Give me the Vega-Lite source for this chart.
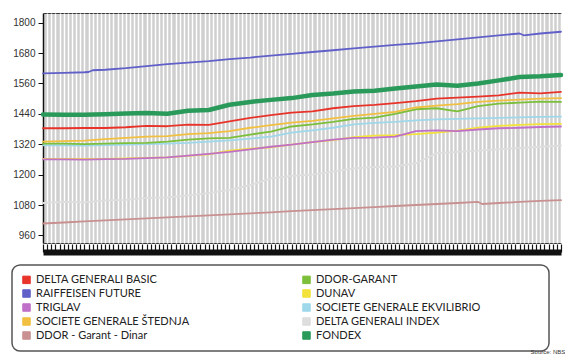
{
"$schema": "https://vega.github.io/schema/vega-lite/v6.json",
"width": 518, "height": 230,
"autosize": {"type": "none"},
"padding": {"left": 43, "top": 13, "right": 4, "bottom": 111},
"background": "white",
"title": {"text": "Source: NBS", "orient": "bottom", "anchor": "end", "fontSize": 6, "fontWeight": "normal", "color": "#333", "font": "Liberation Sans", "offset": 0, "baseline": "top", "dy": -3, "dx": 2},
"data": {"values": [
{"day":0,"fund":"DDOR - Garant - Dinar","value":1007},{"day":5,"fund":"DDOR - Garant - Dinar","value":1011},{"day":10,"fund":"DDOR - Garant - Dinar","value":1015},{"day":15,"fund":"DDOR - Garant - Dinar","value":1019},{"day":20,"fund":"DDOR - Garant - Dinar","value":1023},{"day":25,"fund":"DDOR - Garant - Dinar","value":1027},{"day":30,"fund":"DDOR - Garant - Dinar","value":1031},{"day":35,"fund":"DDOR - Garant - Dinar","value":1035},{"day":40,"fund":"DDOR - Garant - Dinar","value":1039},{"day":45,"fund":"DDOR - Garant - Dinar","value":1043},{"day":50,"fund":"DDOR - Garant - Dinar","value":1047},{"day":55,"fund":"DDOR - Garant - Dinar","value":1051},{"day":60,"fund":"DDOR - Garant - Dinar","value":1056},{"day":65,"fund":"DDOR - Garant - Dinar","value":1060},{"day":70,"fund":"DDOR - Garant - Dinar","value":1064},{"day":75,"fund":"DDOR - Garant - Dinar","value":1068},{"day":80,"fund":"DDOR - Garant - Dinar","value":1072},{"day":85,"fund":"DDOR - Garant - Dinar","value":1076},{"day":90,"fund":"DDOR - Garant - Dinar","value":1080},{"day":95,"fund":"DDOR - Garant - Dinar","value":1084},{"day":100,"fund":"DDOR - Garant - Dinar","value":1088},{"day":105,"fund":"DDOR - Garant - Dinar","value":1092},{"day":106,"fund":"DDOR - Garant - Dinar","value":1084},{"day":110,"fund":"DDOR - Garant - Dinar","value":1088},{"day":115,"fund":"DDOR - Garant - Dinar","value":1092},{"day":120,"fund":"DDOR - Garant - Dinar","value":1096},{"day":125,"fund":"DDOR - Garant - Dinar","value":1099},
{"day":0,"fund":"DELTA GENERALI INDEX","value":1088},{"day":5,"fund":"DELTA GENERALI INDEX","value":1092},{"day":10,"fund":"DELTA GENERALI INDEX","value":1090},{"day":15,"fund":"DELTA GENERALI INDEX","value":1098},{"day":20,"fund":"DELTA GENERALI INDEX","value":1100},{"day":25,"fund":"DELTA GENERALI INDEX","value":1108},{"day":30,"fund":"DELTA GENERALI INDEX","value":1110},{"day":35,"fund":"DELTA GENERALI INDEX","value":1118},{"day":40,"fund":"DELTA GENERALI INDEX","value":1127},{"day":45,"fund":"DELTA GENERALI INDEX","value":1140},{"day":50,"fund":"DELTA GENERALI INDEX","value":1158},{"day":55,"fund":"DELTA GENERALI INDEX","value":1185},{"day":60,"fund":"DELTA GENERALI INDEX","value":1195},{"day":65,"fund":"DELTA GENERALI INDEX","value":1200},{"day":70,"fund":"DELTA GENERALI INDEX","value":1212},{"day":75,"fund":"DELTA GENERALI INDEX","value":1225},{"day":80,"fund":"DELTA GENERALI INDEX","value":1230},{"day":85,"fund":"DELTA GENERALI INDEX","value":1232},{"day":90,"fund":"DELTA GENERALI INDEX","value":1245},{"day":95,"fund":"DELTA GENERALI INDEX","value":1285},{"day":100,"fund":"DELTA GENERALI INDEX","value":1290},{"day":105,"fund":"DELTA GENERALI INDEX","value":1295},{"day":110,"fund":"DELTA GENERALI INDEX","value":1300},{"day":115,"fund":"DELTA GENERALI INDEX","value":1305},{"day":120,"fund":"DELTA GENERALI INDEX","value":1310},{"day":125,"fund":"DELTA GENERALI INDEX","value":1315},
{"day":0,"fund":"SOCIETE GENERALE EKVILIBRIO","value":1316},{"day":5,"fund":"SOCIETE GENERALE EKVILIBRIO","value":1316},{"day":10,"fund":"SOCIETE GENERALE EKVILIBRIO","value":1315},{"day":15,"fund":"SOCIETE GENERALE EKVILIBRIO","value":1316},{"day":20,"fund":"SOCIETE GENERALE EKVILIBRIO","value":1318},{"day":25,"fund":"SOCIETE GENERALE EKVILIBRIO","value":1320},{"day":30,"fund":"SOCIETE GENERALE EKVILIBRIO","value":1322},{"day":35,"fund":"SOCIETE GENERALE EKVILIBRIO","value":1325},{"day":40,"fund":"SOCIETE GENERALE EKVILIBRIO","value":1330},{"day":45,"fund":"SOCIETE GENERALE EKVILIBRIO","value":1335},{"day":50,"fund":"SOCIETE GENERALE EKVILIBRIO","value":1342},{"day":55,"fund":"SOCIETE GENERALE EKVILIBRIO","value":1350},{"day":60,"fund":"SOCIETE GENERALE EKVILIBRIO","value":1366},{"day":65,"fund":"SOCIETE GENERALE EKVILIBRIO","value":1375},{"day":70,"fund":"SOCIETE GENERALE EKVILIBRIO","value":1385},{"day":75,"fund":"SOCIETE GENERALE EKVILIBRIO","value":1398},{"day":80,"fund":"SOCIETE GENERALE EKVILIBRIO","value":1404},{"day":85,"fund":"SOCIETE GENERALE EKVILIBRIO","value":1408},{"day":90,"fund":"SOCIETE GENERALE EKVILIBRIO","value":1414},{"day":95,"fund":"SOCIETE GENERALE EKVILIBRIO","value":1418},{"day":100,"fund":"SOCIETE GENERALE EKVILIBRIO","value":1420},{"day":105,"fund":"SOCIETE GENERALE EKVILIBRIO","value":1422},{"day":110,"fund":"SOCIETE GENERALE EKVILIBRIO","value":1424},{"day":115,"fund":"SOCIETE GENERALE EKVILIBRIO","value":1426},{"day":120,"fund":"SOCIETE GENERALE EKVILIBRIO","value":1428},{"day":125,"fund":"SOCIETE GENERALE EKVILIBRIO","value":1429},
{"day":0,"fund":"DUNAV","value":1262},{"day":5,"fund":"DUNAV","value":1262},{"day":10,"fund":"DUNAV","value":1262},{"day":15,"fund":"DUNAV","value":1262},{"day":20,"fund":"DUNAV","value":1264},{"day":25,"fund":"DUNAV","value":1266},{"day":30,"fund":"DUNAV","value":1268},{"day":35,"fund":"DUNAV","value":1274},{"day":40,"fund":"DUNAV","value":1280},{"day":45,"fund":"DUNAV","value":1295},{"day":50,"fund":"DUNAV","value":1302},{"day":55,"fund":"DUNAV","value":1308},{"day":60,"fund":"DUNAV","value":1318},{"day":65,"fund":"DUNAV","value":1328},{"day":70,"fund":"DUNAV","value":1336},{"day":75,"fund":"DUNAV","value":1348},{"day":80,"fund":"DUNAV","value":1354},{"day":85,"fund":"DUNAV","value":1356},{"day":90,"fund":"DUNAV","value":1360},{"day":95,"fund":"DUNAV","value":1366},{"day":100,"fund":"DUNAV","value":1374},{"day":105,"fund":"DUNAV","value":1385},{"day":110,"fund":"DUNAV","value":1392},{"day":115,"fund":"DUNAV","value":1396},{"day":120,"fund":"DUNAV","value":1399},{"day":125,"fund":"DUNAV","value":1400},
{"day":0,"fund":"TRIGLAV","value":1260},{"day":5,"fund":"TRIGLAV","value":1260},{"day":10,"fund":"TRIGLAV","value":1259},{"day":15,"fund":"TRIGLAV","value":1261},{"day":20,"fund":"TRIGLAV","value":1262},{"day":25,"fund":"TRIGLAV","value":1265},{"day":30,"fund":"TRIGLAV","value":1268},{"day":35,"fund":"TRIGLAV","value":1275},{"day":40,"fund":"TRIGLAV","value":1282},{"day":45,"fund":"TRIGLAV","value":1290},{"day":50,"fund":"TRIGLAV","value":1300},{"day":55,"fund":"TRIGLAV","value":1310},{"day":60,"fund":"TRIGLAV","value":1318},{"day":65,"fund":"TRIGLAV","value":1328},{"day":70,"fund":"TRIGLAV","value":1338},{"day":75,"fund":"TRIGLAV","value":1345},{"day":80,"fund":"TRIGLAV","value":1346},{"day":85,"fund":"TRIGLAV","value":1350},{"day":90,"fund":"TRIGLAV","value":1372},{"day":95,"fund":"TRIGLAV","value":1375},{"day":100,"fund":"TRIGLAV","value":1372},{"day":105,"fund":"TRIGLAV","value":1378},{"day":110,"fund":"TRIGLAV","value":1383},{"day":115,"fund":"TRIGLAV","value":1385},{"day":120,"fund":"TRIGLAV","value":1388},{"day":125,"fund":"TRIGLAV","value":1390},
{"day":0,"fund":"DDOR-GARANT","value":1322},{"day":5,"fund":"DDOR-GARANT","value":1322},{"day":10,"fund":"DDOR-GARANT","value":1320},{"day":15,"fund":"DDOR-GARANT","value":1322},{"day":20,"fund":"DDOR-GARANT","value":1324},{"day":25,"fund":"DDOR-GARANT","value":1325},{"day":30,"fund":"DDOR-GARANT","value":1330},{"day":35,"fund":"DDOR-GARANT","value":1338},{"day":40,"fund":"DDOR-GARANT","value":1343},{"day":45,"fund":"DDOR-GARANT","value":1345},{"day":50,"fund":"DDOR-GARANT","value":1358},{"day":55,"fund":"DDOR-GARANT","value":1370},{"day":60,"fund":"DDOR-GARANT","value":1390},{"day":65,"fund":"DDOR-GARANT","value":1398},{"day":70,"fund":"DDOR-GARANT","value":1408},{"day":75,"fund":"DDOR-GARANT","value":1420},{"day":80,"fund":"DDOR-GARANT","value":1425},{"day":85,"fund":"DDOR-GARANT","value":1440},{"day":90,"fund":"DDOR-GARANT","value":1458},{"day":95,"fund":"DDOR-GARANT","value":1462},{"day":100,"fund":"DDOR-GARANT","value":1450},{"day":105,"fund":"DDOR-GARANT","value":1470},{"day":110,"fund":"DDOR-GARANT","value":1480},{"day":115,"fund":"DDOR-GARANT","value":1484},{"day":120,"fund":"DDOR-GARANT","value":1488},{"day":125,"fund":"DDOR-GARANT","value":1487},
{"day":0,"fund":"SOCIETE GENERALE ŠTEDNJA","value":1330},{"day":5,"fund":"SOCIETE GENERALE ŠTEDNJA","value":1332},{"day":10,"fund":"SOCIETE GENERALE ŠTEDNJA","value":1334},{"day":15,"fund":"SOCIETE GENERALE ŠTEDNJA","value":1340},{"day":20,"fund":"SOCIETE GENERALE ŠTEDNJA","value":1345},{"day":25,"fund":"SOCIETE GENERALE ŠTEDNJA","value":1350},{"day":30,"fund":"SOCIETE GENERALE ŠTEDNJA","value":1352},{"day":35,"fund":"SOCIETE GENERALE ŠTEDNJA","value":1360},{"day":40,"fund":"SOCIETE GENERALE ŠTEDNJA","value":1364},{"day":45,"fund":"SOCIETE GENERALE ŠTEDNJA","value":1372},{"day":50,"fund":"SOCIETE GENERALE ŠTEDNJA","value":1385},{"day":55,"fund":"SOCIETE GENERALE ŠTEDNJA","value":1395},{"day":60,"fund":"SOCIETE GENERALE ŠTEDNJA","value":1405},{"day":65,"fund":"SOCIETE GENERALE ŠTEDNJA","value":1412},{"day":70,"fund":"SOCIETE GENERALE ŠTEDNJA","value":1422},{"day":75,"fund":"SOCIETE GENERALE ŠTEDNJA","value":1432},{"day":80,"fund":"SOCIETE GENERALE ŠTEDNJA","value":1440},{"day":85,"fund":"SOCIETE GENERALE ŠTEDNJA","value":1448},{"day":90,"fund":"SOCIETE GENERALE ŠTEDNJA","value":1465},{"day":95,"fund":"SOCIETE GENERALE ŠTEDNJA","value":1472},{"day":100,"fund":"SOCIETE GENERALE ŠTEDNJA","value":1478},{"day":105,"fund":"SOCIETE GENERALE ŠTEDNJA","value":1487},{"day":110,"fund":"SOCIETE GENERALE ŠTEDNJA","value":1492},{"day":115,"fund":"SOCIETE GENERALE ŠTEDNJA","value":1496},{"day":120,"fund":"SOCIETE GENERALE ŠTEDNJA","value":1500},{"day":125,"fund":"SOCIETE GENERALE ŠTEDNJA","value":1502},
{"day":0,"fund":"DELTA GENERALI BASIC","value":1383},{"day":5,"fund":"DELTA GENERALI BASIC","value":1383},{"day":10,"fund":"DELTA GENERALI BASIC","value":1384},{"day":15,"fund":"DELTA GENERALI BASIC","value":1384},{"day":20,"fund":"DELTA GENERALI BASIC","value":1387},{"day":25,"fund":"DELTA GENERALI BASIC","value":1392},{"day":30,"fund":"DELTA GENERALI BASIC","value":1391},{"day":35,"fund":"DELTA GENERALI BASIC","value":1397},{"day":40,"fund":"DELTA GENERALI BASIC","value":1396},{"day":45,"fund":"DELTA GENERALI BASIC","value":1410},{"day":50,"fund":"DELTA GENERALI BASIC","value":1424},{"day":55,"fund":"DELTA GENERALI BASIC","value":1435},{"day":60,"fund":"DELTA GENERALI BASIC","value":1445},{"day":65,"fund":"DELTA GENERALI BASIC","value":1450},{"day":70,"fund":"DELTA GENERALI BASIC","value":1462},{"day":75,"fund":"DELTA GENERALI BASIC","value":1470},{"day":80,"fund":"DELTA GENERALI BASIC","value":1475},{"day":85,"fund":"DELTA GENERALI BASIC","value":1482},{"day":90,"fund":"DELTA GENERALI BASIC","value":1490},{"day":95,"fund":"DELTA GENERALI BASIC","value":1500},{"day":100,"fund":"DELTA GENERALI BASIC","value":1504},{"day":105,"fund":"DELTA GENERALI BASIC","value":1508},{"day":110,"fund":"DELTA GENERALI BASIC","value":1513},{"day":115,"fund":"DELTA GENERALI BASIC","value":1524},{"day":120,"fund":"DELTA GENERALI BASIC","value":1521},{"day":125,"fund":"DELTA GENERALI BASIC","value":1527},
{"day":0,"fund":"FONDEX","value":1437},{"day":5,"fund":"FONDEX","value":1436},{"day":10,"fund":"FONDEX","value":1436},{"day":15,"fund":"FONDEX","value":1438},{"day":20,"fund":"FONDEX","value":1441},{"day":25,"fund":"FONDEX","value":1443},{"day":30,"fund":"FONDEX","value":1440},{"day":35,"fund":"FONDEX","value":1452},{"day":40,"fund":"FONDEX","value":1455},{"day":45,"fund":"FONDEX","value":1476},{"day":50,"fund":"FONDEX","value":1487},{"day":55,"fund":"FONDEX","value":1495},{"day":60,"fund":"FONDEX","value":1502},{"day":65,"fund":"FONDEX","value":1514},{"day":70,"fund":"FONDEX","value":1520},{"day":75,"fund":"FONDEX","value":1528},{"day":80,"fund":"FONDEX","value":1531},{"day":85,"fund":"FONDEX","value":1540},{"day":90,"fund":"FONDEX","value":1548},{"day":95,"fund":"FONDEX","value":1556},{"day":100,"fund":"FONDEX","value":1551},{"day":105,"fund":"FONDEX","value":1560},{"day":110,"fund":"FONDEX","value":1572},{"day":115,"fund":"FONDEX","value":1585},{"day":120,"fund":"FONDEX","value":1588},{"day":125,"fund":"FONDEX","value":1593},
{"day":0,"fund":"RAIFFEISEN FUTURE","value":1600},{"day":5,"fund":"RAIFFEISEN FUTURE","value":1602},{"day":10,"fund":"RAIFFEISEN FUTURE","value":1604},{"day":11,"fund":"RAIFFEISEN FUTURE","value":1605},{"day":12,"fund":"RAIFFEISEN FUTURE","value":1612},{"day":15,"fund":"RAIFFEISEN FUTURE","value":1614},{"day":20,"fund":"RAIFFEISEN FUTURE","value":1620},{"day":25,"fund":"RAIFFEISEN FUTURE","value":1628},{"day":30,"fund":"RAIFFEISEN FUTURE","value":1636},{"day":35,"fund":"RAIFFEISEN FUTURE","value":1642},{"day":40,"fund":"RAIFFEISEN FUTURE","value":1648},{"day":45,"fund":"RAIFFEISEN FUTURE","value":1656},{"day":50,"fund":"RAIFFEISEN FUTURE","value":1662},{"day":55,"fund":"RAIFFEISEN FUTURE","value":1670},{"day":60,"fund":"RAIFFEISEN FUTURE","value":1677},{"day":65,"fund":"RAIFFEISEN FUTURE","value":1684},{"day":70,"fund":"RAIFFEISEN FUTURE","value":1691},{"day":75,"fund":"RAIFFEISEN FUTURE","value":1698},{"day":80,"fund":"RAIFFEISEN FUTURE","value":1705},{"day":85,"fund":"RAIFFEISEN FUTURE","value":1712},{"day":90,"fund":"RAIFFEISEN FUTURE","value":1718},{"day":95,"fund":"RAIFFEISEN FUTURE","value":1726},{"day":100,"fund":"RAIFFEISEN FUTURE","value":1734},{"day":105,"fund":"RAIFFEISEN FUTURE","value":1742},{"day":110,"fund":"RAIFFEISEN FUTURE","value":1750},{"day":115,"fund":"RAIFFEISEN FUTURE","value":1757},{"day":116,"fund":"RAIFFEISEN FUTURE","value":1750},{"day":120,"fund":"RAIFFEISEN FUTURE","value":1757},{"day":125,"fund":"RAIFFEISEN FUTURE","value":1764}
]},
"mark": {"type": "line", "strokeJoin": "round", "strokeCap": "round"},
"encoding": {
  "x": {"field": "day", "type": "quantitative",
        "scale": {"domain": [0, 125], "nice": false, "zero": false},
        "axis": {"title": null, "labels": false, "tickCount": 125, "tickSize": -8, "tickColor": "#111", "tickWidth": 1.2,
                 "domainColor": "#111", "domainWidth": 6, "offset": 9,
                 "grid": true, "gridColor": "#ffffff", "gridWidth": 1.5, "gridOpacity": 1}},
  "y": {"field": "value", "type": "quantitative",
        "scale": {"domain": [930, 1838], "nice": false, "zero": false},
        "axis": {"title": null, "values": [960, 1080, 1200, 1320, 1440, 1560, 1680, 1800], "format": "d", "grid": false,
                 "labelFont": "Liberation Sans", "labelFontSize": 10, "labelColor": "#333", "labelPadding": 3,
                 "tickSize": 5, "tickColor": "#111", "domainColor": "#111", "domainWidth": 1.5}},
  "color": {"field": "fund", "type": "nominal",
    "scale": {
      "domain": ["DELTA GENERALI BASIC", "RAIFFEISEN FUTURE", "TRIGLAV", "SOCIETE GENERALE ŠTEDNJA", "DDOR - Garant - Dinar", "DDOR-GARANT", "DUNAV", "SOCIETE GENERALE EKVILIBRIO", "DELTA GENERALI INDEX", "FONDEX"],
      "range": ["#e8332a", "#6060c8", "#c070c8", "#f2c040", "#c89090", "#7cbf3a", "#f2e23a", "#9ed8ea", "#dedede", "#2a9a5a"]},
    "legend": {"orient": "none", "legendX": -31, "legendY": 252, "columns": 2, "columnPadding": 110, "rowPadding": 1,
               "padding": 9, "strokeColor": "#555", "cornerRadius": 8, "fillColor": "#ffffff",
               "title": " ", "titleOrient": "right", "titlePadding": 60, "titleFontSize": 6,
               "symbolType": "square", "symbolSize": 56, "symbolStrokeColor": "#333", "symbolStrokeWidth": 1,
               "labelFont": "Lato", "labelFontSize": 11, "labelColor": "#222", "labelOffset": 4, "labelLimit": 300,
               "encode": {"legend": {"update": {"strokeWidth": {"value": 1.5}}},
                          "symbols": {"update": {"fill": {"scale": "color", "field": "value"}, "stroke": {"value": "#333"}, "strokeWidth": {"value": 1}, "opacity": {"value": 1}}}}}},
  "strokeWidth": {"condition": {"test": "datum.fund === 'FONDEX'", "value": 4.5}, "value": 1.8}
},
"config": {"view": {"fill": "#cfcfcf", "stroke": "#333", "strokeWidth": 1}}
}
